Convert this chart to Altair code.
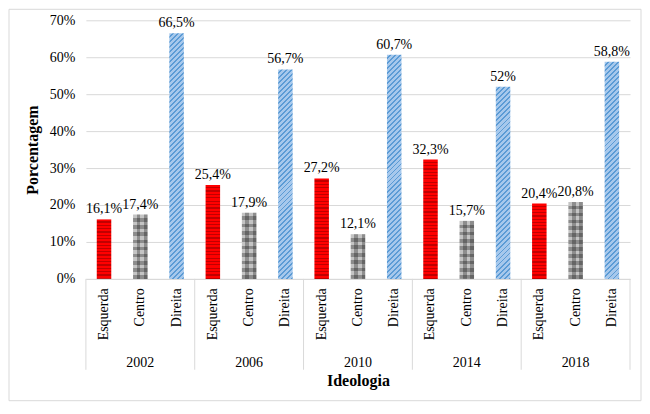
import altair as alt

# ---- data ----
years = ["2002", "2006", "2010", "2014", "2018"]
categories = ["Esquerda", "Centro", "Direita"]
esquerda = [16.1, 25.4, 27.2, 32.3, 20.4]
centro = [17.4, 17.9, 12.1, 15.7, 20.8]
direita = [66.5, 56.7, 60.7, 52.0, 58.8]
y_ticks = [0, 0.1, 0.2, 0.3, 0.4, 0.5, 0.6, 0.7]

# ---- layout constants ----
W = 545
H = 259
YMAX = 0.7
STEP = W / 15.0
BAR_W = STEP * 0.4
FONT = "Liberation Serif"
GRID = "#d9d9d9"


def fmt(v):
    s = f"{v:.1f}".replace(".", ",")
    if s.endswith(",0"):
        s = s[:-2]
    return s + "%"


def stripes(n, c1, c2, frac, x2, y2):
    stops = []
    for i in range(n):
        a = i / n
        b = (i + frac) / n
        c = (i + 1) / n
        stops += [
            {"offset": a, "color": c1},
            {"offset": b, "color": c1},
            {"offset": b, "color": c2},
            {"offset": c, "color": c2},
        ]
    return {"gradient": "linear", "x1": 0, "y1": 0, "x2": x2, "y2": y2, "stops": stops}


def fill_for(cat, v):
    h = v / 100.0 / YMAX * H
    if cat == "Esquerda":
        n = max(1, round(h / 3.3))
        return stripes(n, "#ff0000", "#c00000", 0.62, 0, 1), None
    if cat == "Centro":
        n = max(1, round(h / 7.0))
        base = stripes(n, "#c4c4c4", "#8c8c8c", 0.5, 0, 1)
        over = stripes(2, "rgba(0,0,0,0.0)", "rgba(0,0,0,0.28)", 0.5, 1, 0)
        return base, over
    w = BAR_W
    r = h / w
    a = (w + h) * w / (w * w + h * h)
    n = max(1, round((w + h) / 5.0))
    return stripes(n, "#a6c8ec", "#5b9bd5", 0.62, a, a * r), None


series = {"Esquerda": esquerda, "Centro": centro, "Direita": direita}
records = []
keys = []
for i, yr in enumerate(years):
    for cat in categories:
        v = series[cat][i]
        g1, g2 = fill_for(cat, v)
        key = yr + "|" + cat
        keys.append(key)
        rec = {"key": key, "year": yr, "cat": cat, "val": v / 100.0,
               "label": fmt(v), "grad": g1}
        if g2 is not None:
            rec["grad2"] = g2
        records.append(rec)

data = alt.Data(values=records)

xscale = alt.Scale(domain=keys, paddingInner=0.6, paddingOuter=0.3)
yscale = alt.Scale(domain=[0, YMAX])

x_axis = alt.Axis(
    title="Ideologia", labelAngle=270, labelAlign="right", labelBaseline="middle",
    labelExpr="split(datum.label, '|')[1]", labelFont=FONT, labelFontSize=14,
    labelColor="#000", labelPadding=9, ticks=False, domainColor=GRID,
    titleFont=FONT, titleFontSize=16, titleFontWeight="bold", titleColor="#000",
    titlePadding=33,
)
y_axis = alt.Axis(
    title="Porcentagem", values=y_ticks, format=".0%", labelFont=FONT,
    labelFontSize=14, labelColor="#000", labelPadding=11, ticks=False,
    domain=False, gridColor=GRID, titleFont=FONT, titleFontSize=16,
    titleFontWeight="bold", titleColor="#000", titlePadding=9,
)

X = alt.X("key:N", scale=xscale, axis=x_axis, sort=keys)
Y = alt.Y("val:Q", scale=yscale, axis=y_axis)

bars = alt.Chart(data).mark_bar().encode(
    x=X, y=Y, fill=alt.Fill("grad:N", scale=None),
)

overlay = alt.Chart(data).transform_filter(
    alt.datum.cat == "Centro"
).mark_bar().encode(
    x=X, y=Y, fill=alt.Fill("grad2:N", scale=None),
)

texts = alt.Chart(data).mark_text(
    font=FONT, fontSize=14, color="#000", baseline="bottom", dy=-3
).encode(
    x=X, y=Y, text="label:N",
)

bounds_data = alt.Data(values=[{"b": i} for i in range(len(years) + 1)])
seps = alt.Chart(bounds_data).mark_rule(color=GRID, strokeWidth=1).encode(
    x=alt.X("b:Q", scale=alt.Scale(domain=[0, len(years)]), axis=None),
    y=alt.value(H),
    y2=alt.value(H + 91),
)

year_data = alt.Data(values=[{"pos": i + 0.5, "year": yr} for i, yr in enumerate(years)])
year_labels = alt.Chart(year_data).mark_text(
    font=FONT, fontSize=14, color="#000", baseline="alphabetic"
).encode(
    x=alt.X("pos:Q", scale=alt.Scale(domain=[0, len(years)]), axis=None),
    y=alt.value(H + 88),
    text="year:N",
)

frame = alt.Chart(alt.Data(values=[{"f": 1}])).mark_rect(
    fill="transparent", stroke=GRID, strokeWidth=1
).encode(
    x=alt.value(-77), x2=alt.value(556), y=alt.value(-11), y2=alt.value(381),
)

main = alt.layer(bars, overlay, texts)
guides = alt.layer(frame, seps, year_labels)

chart = alt.layer(main, guides).resolve_scale(x="independent").properties(
    width=W, height=H, padding=0, background="white"
).configure_view(stroke=None)

chart.save("out.html", embed_options={"renderer": "svg", "actions": False})
